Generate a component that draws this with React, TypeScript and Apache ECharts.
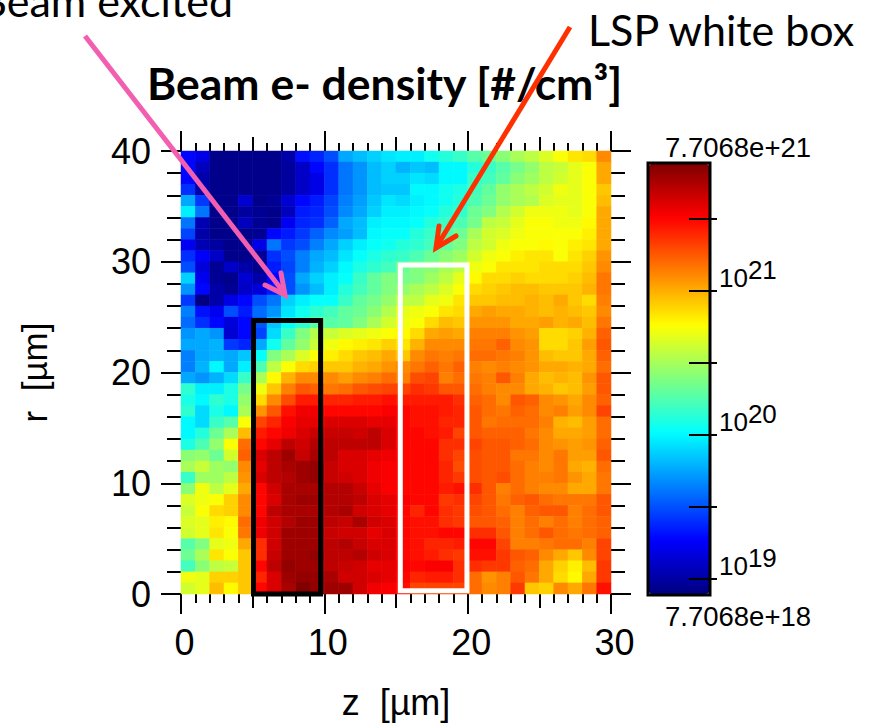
import React, { useEffect, useRef } from "react";
import * as echarts from "echarts";

const LOG_MIN = 18.887;
const LOG_MAX = 21.887;
const zCenters = Array.from({ length: 30 }, (_, i) => String(i));
const rCenters = Array.from({ length: 40 }, (_, i) => String(i));
const jetColors = ["#000080", "#0000ff", "#0080ff", "#00ffff", "#80ff80", "#ffff00", "#ff8000", "#ff0000", "#800000"];

// Position on the log colour bar (0 = 7.7068e+18, 100 = 7.7068e+21), rows from r=40 down to r=0.
const densityRows: number[][] = [
  [13,10,1,1,1,1,1,4,14,16,20,29,31,33,35, 36,36,39,41,43,46,48,51,54,56,59,62,65,66,74],
  [13,6,1,1,1,1,1,3,7,13,17,24,27,31,33, 30,32,31,37,37,41,43,46,49,52,56,57,60,62,71],
  [13,4,1,1,1,1,1,3,7,10,17,24,27,31,33, 33,35,34,37,37,43,44,47,51,53,56,58,60,62,71],
  [17,4,1,1,1,1,1,3,7,10,17,24,27,31,32, 32,37,37,39,40,44,47,52,54,56,58,61,60,62,68],
  [29,18,1,1,8,1,2,8,13,15,19,25,28,32,35, 34,36,37,39,41,45,48,52,54,55,59,60,60,62,69],
  [36,24,1,1,3,2,1,6,15,16,20,26,29,33,36, 36,37,38,41,42,48,50,55,58,61,61,61,60,62,71],
  [24,5,1,1,6,2,1,11,16,17,22,29,31,36,37, 37,38,41,43,45,49,56,57,60,62,62,61,61,63,71],
  [19,4,1,1,1,2,13,15,18,22,26,28,31,37,38, 38,41,43,45,48,54,58,59,61,62,62,62,62,64,71],
  [11,5,3,1,1,10,24,18,20,25,29,33,36,38,39, 41,42,44,47,50,56,58,61,62,62,63,62,64,65,71],
  [17,12,7,1,1,2,17,20,25,29,31,35,38,40,42, 43,45,48,51,53,58,61,62,64,65,65,62,65,67,73],
  [20,9,2,7,4,1,15,19,25,30,33,37,40,42,44, 48,50,51,54,56,61,62,65,65,65,66,66,66,68,74],
  [33,11,2,1,8,4,13,20,29,33,36,38,43,47,50, 49,50,53,56,60,63,66,66,67,66,66,66,67,69,76],
  [27,13,4,2,7,9,15,20,27,31,36,41,44,47,50, 52,54,56,59,62,66,67,68,69,69,68,68,68,70,76],
  [18,0,4,10,13,20,24,33,36,38,38,43,47,49,52, 56,56,60,61,65,68,68,69,69,70,69,71,68,66,75],
  [25,14,11,20,15,23,27,35,39,42,44,47,48,51,55, 60,61,62,65,66,71,72,71,71,70,69,70,69,68,74],
  [23,17,13,9,13,21,32,38,42,46,46,47,50,54,58, 61,62,66,69,68,73,73,73,71,71,72,70,71,69,76],
  [27,29,27,8,13,19,34,43,50,55,57,59,60,61,62, 63,66,71,72,71,75,75,75,73,72,66,66,67,70,78],
  [29,29,30,18,16,29,39,47,52,57,61,63,64,65,67, 65,70,74,74,74,76,76,78,74,73,66,66,68,72,79],
  [25,29,30,29,32,38,50,54,59,62,64,66,68,69,71, 68,74,76,75,76,77,77,76,75,73,69,68,68,71,78],
  [25,30,37,29,36,45,56,62,66,67,68,68,70,71,73, 74,76,78,76,78,75,74,75,74,73,71,71,70,71,77],
  [29,27,30,34,43,54,63,70,74,74,74,72,74,75,77, 75,80,81,75,77,76,75,79,75,71,69,70,69,73,79],
  [42,36,36,40,49,61,68,75,79,78,76,77,79,80,81, 81,83,82,79,79,77,75,74,74,71,70,68,69,72,79],
  [40,37,42,40,52,66,74,80,85,85,84,84,85,85,86, 85,85,85,85,83,78,77,74,79,78,74,73,71,74,78],
  [42,34,40,37,54,73,79,86,89,89,87,87,87,87,88, 87,86,86,85,84,79,77,76,78,77,74,75,72,74,81],
  [37,34,43,46,62,81,84,88,90,90,91,91,91,90,90, 87,86,86,84,84,79,76,77,77,77,75,70,69,72,77],
  [37,41,48,54,69,85,87,89,91,93,93,93,92,94,91, 87,87,86,85,81,79,78,78,78,76,74,71,71,72,77],
  [40,45,52,62,77,87,90,94,92,95,94,94,94,94,91, 87,87,87,83,83,81,79,79,78,77,74,73,72,73,78],
  [51,52,48,58,78,91,94,97,93,96,94,91,91,90,89, 87,87,87,83,81,80,79,79,76,76,74,76,72,72,79],
  [54,57,53,52,74,90,94,96,97,98,93,91,91,89,88, 87,87,87,84,80,80,79,79,77,75,74,76,71,70,77],
  [43,53,53,56,73,91,94,95,97,98,93,92,91,89,88, 87,87,87,84,82,80,79,80,77,75,75,76,73,71,76],
  [51,61,56,60,71,87,92,96,96,96,95,95,93,90,88, 87,87,87,85,86,83,79,75,77,75,74,74,71,71,76],
  [59,61,62,67,74,87,91,96,97,97,95,95,94,91,90, 88,87,87,82,83,81,79,76,78,79,77,76,76,76,79],
  [57,62,66,67,74,87,94,96,96,96,95,96,92,91,90, 87,84,87,83,82,80,79,77,75,78,79,79,75,77,79],
  [59,60,64,63,77,89,92,95,97,97,94,93,96,92,91, 87,86,86,83,82,79,79,78,75,77,75,77,75,77,78],
  [58,60,65,62,76,89,92,97,97,97,93,92,92,90,91, 87,86,86,87,87,83,83,79,75,77,79,77,76,77,78],
  [46,50,60,61,71,83,92,97,97,97,94,95,93,91,91, 87,86,84,84,85,87,87,81,75,75,76,77,77,75,81],
  [48,54,65,62,68,83,93,97,97,98,94,94,95,92,91, 87,86,85,83,82,86,86,82,79,78,74,71,68,74,81],
  [44,51,56,57,68,87,94,98,97,97,94,93,92,90,90, 88,87,88,88,83,83,82,82,78,77,71,67,64,69,82],
  [61,60,67,67,68,84,91,97,98,98,96,92,92,91,90, 87,84,85,85,83,77,73,75,79,76,71,66,63,71,82],
  [58,60,69,63,68,87,91,96,100,98,97,97,92,89,88, 86,81,81,81,81,77,74,75,82,68,67,74,71,76,86],
];

const heatData: number[][] = [];
densityRows.forEach((row, k) => {
  row.forEach((t, c) => {
    heatData.push([c, 39 - k, LOG_MIN + (t / 100) * (LOG_MAX - LOG_MIN)]);
  });
});

const beamBox = [[5.06, 0], [5.06, 24.7], [9.74, 24.7], [9.74, 0], [5.06, 0]];
const lspBox = [[15.3, 0.3], [15.3, 29.7], [19.95, 29.7], [19.95, 0.3], [15.3, 0.3]];
const midTicksZ = [5, 15, 25];
const colorbarTicks = [19, 19.5, 20, 20.5, 21, 21.5];
const colorbarLabels = [19, 20, 21];

const SANS = "Liberation Sans";
const LATO = "Lato";
const INK = "#000";
const PINK = "#f25fb0";
const RED = "#ff3000";

const hiddenLine = { show: false, onZero: false };

function buildOption(): any {
  const tickStyle = { color: INK, width: 2 };
  const zAxis = (position: string, major: number, minor: number, labelled: boolean) => ({
    type: "value", gridIndex: 0, position, min: 0, max: 30, interval: 10,
    axisLine: hiddenLine,
    axisTick: { show: true, length: major, lineStyle: tickStyle },
    minorTick: { show: true, splitNumber: 10, length: minor, lineStyle: tickStyle },
    splitLine: { show: false },
    axisLabel: labelled
      ? { show: true, fontFamily: SANS, fontSize: 36, color: INK, margin: 30, padding: [0, 0, 0, 7] }
      : { show: false },
    ...(labelled
      ? { name: "z  [\u00b5m]", nameLocation: "middle", nameGap: 90, nameTextStyle: { fontFamily: SANS, fontSize: 36, color: INK } }
      : {}),
  });
  const zMidAxis = (position: string) => ({
    type: "value", gridIndex: 0, position, min: 0, max: 30,
    axisLine: hiddenLine,
    axisTick: { show: true, length: 14, lineStyle: tickStyle, customValues: midTicksZ },
    splitLine: { show: false },
    axisLabel: { show: false },
  });
  const rAxis = (position: string, major: number, minor: number, labelled: boolean) => ({
    type: "value", gridIndex: 0, position, min: 0, max: 40, interval: 10,
    axisLine: hiddenLine,
    axisTick: { show: true, length: major, lineStyle: tickStyle },
    minorTick: { show: true, splitNumber: 5, length: minor, lineStyle: tickStyle },
    splitLine: { show: false },
    axisLabel: labelled
      ? { show: true, fontFamily: SANS, fontSize: 36, color: INK, margin: 30 }
      : { show: false },
    ...(labelled
      ? { name: "r  [\u00b5m]", nameLocation: "middle", nameGap: 129, nameTextStyle: { fontFamily: SANS, fontSize: 35, color: INK } }
      : {}),
  });

  return {
    animation: false,
    backgroundColor: "#fff",
    title: {
      text: "Beam e- density [#/cm\u00b3]",
      left: 147,
      top: 60,
      padding: 0,
      textStyle: { fontFamily: LATO, fontWeight: "bold", fontSize: 44.5, color: INK },
    },
    grid: [
      { left: 181, top: 151, width: 430, height: 443, containLabel: false },
      { left: 649, top: 163, width: 68, height: 432, containLabel: false },
    ],
    xAxis: [
      { type: "category", gridIndex: 0, data: zCenters, show: false },
      zAxis("bottom", 20, 9, true),
      zMidAxis("bottom"),
      zAxis("top", 20, 8, false),
      zMidAxis("top"),
      { type: "value", gridIndex: 1, show: false, min: 0, max: 1 },
    ],
    yAxis: [
      { type: "category", gridIndex: 0, data: rCenters, show: false },
      rAxis("left", 20, 14, true),
      rAxis("right", 20, 14, false),
      {
        type: "value", gridIndex: 1, position: "right", min: LOG_MIN, max: LOG_MAX, z: 10,
        axisLine: hiddenLine,
        axisTick: { show: true, inside: true, length: 28, lineStyle: tickStyle, customValues: colorbarTicks },
        splitLine: { show: false },
        axisLabel: {
          show: true, customValues: colorbarLabels, margin: 2, verticalAlign: "bottom",
          formatter: (v: number) => `{b|10}{s|${v}}`,
          rich: {
            b: { fontFamily: SANS, fontSize: 26, color: INK, lineHeight: 26, verticalAlign: "bottom" },
            s: { fontFamily: SANS, fontSize: 26, color: INK, lineHeight: 26, padding: [0, 0, 16, 0] },
          },
        },
      },
    ],
    visualMap: {
      type: "continuous", seriesIndex: 0, dimension: 2, min: LOG_MIN, max: LOG_MAX,
      calculable: false, hoverLink: false, left: 649, top: 164, itemWidth: 60, itemHeight: 430, padding: 0,
      inRange: { color: jetColors },
    },
    series: [
      {
        type: "heatmap", xAxisIndex: 0, yAxisIndex: 0, data: heatData, silent: true, z: 2,
        itemStyle: { borderWidth: 0 },
      },
      {
        type: "line", xAxisIndex: 1, yAxisIndex: 1, data: beamBox, clip: false, symbol: "none", silent: true, z: 6,
        lineStyle: { color: "#000", width: 5, join: "miter", cap: "square" },
      },
      {
        type: "line", xAxisIndex: 1, yAxisIndex: 1, data: lspBox, clip: false, symbol: "none", silent: true, z: 6,
        lineStyle: { color: "#fff", width: 5, join: "miter", cap: "square" },
      },
    ],
    graphic: {
      elements: [
        { type: "rect", z: 50, silent: true, shape: { x: 648, y: 163, width: 62, height: 432 }, style: { fill: "none", stroke: "#000", lineWidth: 3 } },
        { type: "text", z: 50, silent: true, x: 665, y: 147, style: { text: "7.7068e+21", fontFamily: SANS, fontSize: 27.5, fill: INK, verticalAlign: "middle" } },
        { type: "text", z: 50, silent: true, x: 665, y: 616, style: { text: "7.7068e+18", fontFamily: SANS, fontSize: 27.5, fill: INK, verticalAlign: "middle" } },
        { type: "text", z: 50, silent: true, x: 233, y: 0, style: { text: "Beam excited", fontFamily: LATO, fontSize: 43, fill: INK, align: "right", verticalAlign: "middle" } },
        { type: "text", z: 50, silent: true, x: 588, y: 29, style: { text: "LSP white box", fontFamily: LATO, fontSize: 43, fill: INK, verticalAlign: "middle" } },
        { type: "line", z: 60, silent: true, shape: { x1: 85, y1: 36, x2: 285, y2: 294 }, style: { stroke: PINK, lineWidth: 5 } },
        { type: "polyline", z: 60, silent: true, shape: { points: [[281, 273], [285, 295], [265, 285]] }, style: { stroke: PINK, lineWidth: 5, fill: "none", lineCap: "round", lineJoin: "miter" } },
        { type: "line", z: 60, silent: true, shape: { x1: 570, y1: 27, x2: 437, y2: 246 }, style: { stroke: RED, lineWidth: 5 } },
        { type: "polyline", z: 60, silent: true, shape: { points: [[439, 226], [436, 248], [456, 236]] }, style: { stroke: RED, lineWidth: 5, fill: "none", lineCap: "round", lineJoin: "miter" } },
      ],
    },
  };
}

export default function App() {
  const ref = useRef<HTMLDivElement>(null);
  useEffect(() => {
    document.body.style.margin = "0";
    const chart = echarts.init(ref.current!, undefined, { renderer: "svg" });
    chart.setOption(buildOption());
    return () => chart.dispose();
  }, []);
  return <div ref={ref} style={{ width: 873, height: 725 }} />;
}
